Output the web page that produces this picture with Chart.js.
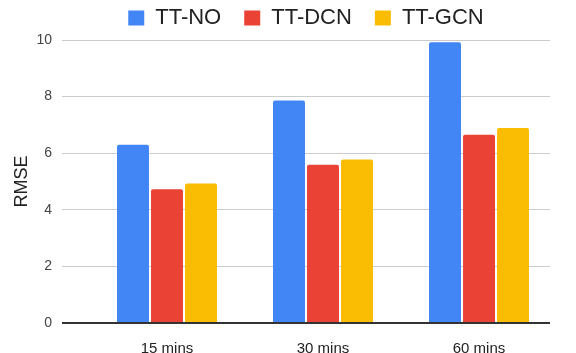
<!DOCTYPE html>
<html>
<head>
<meta charset="utf-8">
<script src="https://cdn.jsdelivr.net/npm/chart.js@4/dist/chart.umd.min.js"></script>
<style>
html,body{margin:0;padding:0;background:#fff;}
#wrap{width:576px;height:353px;position:relative;}
</style>
</head>
<body>
<div id="wrap"><canvas id="c"></canvas></div>
<script>
const categories = ['15 mins', '30 mins', '60 mins'];
const seriesNames = ['TT-NO', 'TT-DCN', 'TT-GCN'];
const ttNO  = [6.30, 7.86, 9.92];
const ttDCN = [4.73, 5.59, 6.65];
const ttGCN = [4.93, 5.78, 6.89];
const yTicks = [0, 2, 4, 6, 8, 10];
const colors = ['#4285F4', '#EA4335', '#FBBC04'];

const toPoints = arr => arr.map((v, i) => ({x: i, y: v}));
const seriesData = [ttNO, ttDCN, ttGCN];

const legendFit = {
  id: 'legendFit',
  beforeInit(chart) {
    const orig = chart.legend.fit;
    chart.legend.fit = function () {
      orig.bind(this)();
      this.height = 56;
    };
  }
};

Chart.defaults.font.family = "'Liberation Sans', Arial, sans-serif";

new Chart(document.getElementById('c'), {
  type: 'bar',
  data: {
    datasets: seriesData.map((d, k) => ({
      label: seriesNames[k],
      data: toPoints(d),
      backgroundColor: colors[k],
      borderRadius: 2,
      borderSkipped: 'bottom',
      categoryPercentage: 0.654,
      barPercentage: 0.94
    }))
  },
  options: {
    responsive: true,
    maintainAspectRatio: false,
    animation: false,
    layout: { padding: { top: -16, right: 26, bottom: 0, left: 0 } },
    plugins: {
      tooltip: { enabled: false },
      legend: {
        position: 'top',
        align: 'center',
        fullSize: false,
        labels: {
          boxWidth: 16,
          boxHeight: 15,
          padding: 23,
          color: '#222',
          font: { size: 22 }
        }
      }
    },
    scales: {
      x: {
        type: 'linear',
        min: -0.673,
        max: 2.455,
        offset: false,
        grid: { display: false, offset: false },
        border: { display: false },
        afterBuildTicks: s => { s.ticks = categories.map((c, i) => ({ value: i })); },
        afterFit: s => { s.height = 30; },
        ticks: {
          callback: v => categories[v],
          color: '#222',
          font: { size: 15 },
          padding: 9,
          maxRotation: 0,
          autoSkip: false
        }
      },
      y: {
        min: 0,
        max: 10,
        afterBuildTicks: s => { s.ticks = yTicks.map(v => ({ value: v })); },
        afterFit: s => { s.width = 62; },
        grid: {
          drawTicks: false,
          color: c => (c.tick && c.tick.value === 0) ? '#333' : '#ccc',
          lineWidth: c => (c.tick && c.tick.value === 0) ? 2 : 1
        },
        border: { display: false },
        ticks: {
          color: '#444',
          font: { size: 14 },
          padding: 10
        },
        title: {
          display: true,
          text: 'RMSE',
          color: '#222',
          font: { size: 18 },
          padding: { top: 11, bottom: 0 }
        }
      }
    }
  },
  plugins: [legendFit]
});
</script>
</body>
</html>
